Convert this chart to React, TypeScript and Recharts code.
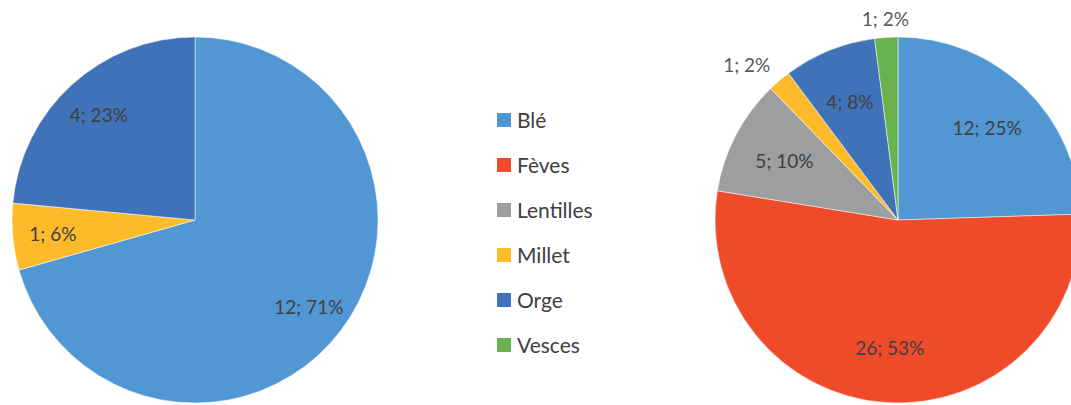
import React from 'react';
import { PieChart, Pie, Cell, Legend } from 'recharts';

const categories = ['Blé', 'Fèves', 'Lentilles', 'Millet', 'Orge', 'Vesces'];
const colors = ['#5097D3', '#EF4B2B', '#9D9E9F', '#FDBB2C', '#3F72B9', '#6AB150'];

const leftCategories = ['Blé', 'Millet', 'Orge'];
const leftValues = [12, 1, 4];

const rightCategories = ['Blé', 'Fèves', 'Lentilles', 'Millet', 'Orge', 'Vesces'];
const rightValues = [12, 26, 5, 1, 4, 1];

const colorOf = (name: string) => colors[categories.indexOf(name)];

// Largest-remainder rounding (percentages sum to 100)
function roundedPercents(values: number[]): number[] {
  const total = values.reduce((a, b) => a + b, 0);
  const raw = values.map((v) => (v / total) * 100);
  const floors = raw.map((r) => Math.floor(r));
  let rest = 100 - floors.reduce((a, b) => a + b, 0);
  const order = raw
    .map((r, i) => ({ i, rem: r - Math.floor(r) }))
    .sort((a, b) => b.rem - a.rem);
  const out = [...floors];
  for (let k = 0; k < order.length && rest > 0; k++, rest--) out[order[k].i] += 1;
  return out;
}

const leftData = leftCategories.map((name, i) => ({ name, value: leftValues[i] }));
const rightData = rightCategories.map((name, i) => ({ name, value: rightValues[i] }));
const leftPct = roundedPercents(leftValues);
const rightPct = roundedPercents(rightValues);

const RAD = Math.PI / 180;
const FONT = 'Lato, "Noto Sans", sans-serif';

const makeLabel = (pcts: number[], inner: number) => (props: any) => {
  const { cx, cy, midAngle, outerRadius, value, index } = props;
  const pct = pcts[index];
  const cos = Math.cos(-midAngle * RAD);
  const sin = Math.sin(-midAngle * RAD);
  const small = pct < 5;
  const r = small ? outerRadius + 14 : outerRadius * inner;
  const x = cx + r * cos;
  const y = cy + r * sin;
  let anchor: 'start' | 'middle' | 'end' = 'middle';
  if (small) {
    if (cos < -0.3) anchor = 'end';
    else if (cos > 0.3) anchor = 'start';
  }
  return (
    <text
      x={x}
      y={y - (small ? 5 : 0)}
      textAnchor={anchor}
      dominantBaseline="central"
      fill={small ? '#595959' : '#404040'}
      fontSize={19}
      fontFamily={FONT}
    >
      {`${value}; ${pct}%`}
    </text>
  );
};

const LegendContent = () => (
  <div style={{ fontFamily: FONT }}>
    {categories.map((c, i) => (
      <div
        key={c}
        style={{ display: 'flex', alignItems: 'center', height: 45, color: '#404040', fontSize: 21 }}
      >
        <span
          style={{ display: 'inline-block', width: 14, height: 14, background: colors[i], marginRight: 6 }}
        />
        <span>{c}</span>
      </div>
    ))}
  </div>
);

export default function App() {
  return (
    <div style={{ position: 'absolute', left: 0, top: 0, width: 1071, height: 405, background: '#fff' }}>
      <PieChart width={1071} height={405} margin={{ top: 0, right: 0, bottom: 0, left: 0 }}>
        <Pie
          data={leftData}
          dataKey="value"
          nameKey="name"
          cx={195}
          cy={220}
          outerRadius={183}
          startAngle={90}
          endAngle={-270}
          stroke="#ffffff"
          strokeWidth={0.5}
          labelLine={false}
          label={makeLabel(leftPct, 0.78)}
          isAnimationActive={false}
        >
          {leftData.map((d) => (
            <Cell key={d.name} fill={colorOf(d.name)} />
          ))}
        </Pie>
        <Pie
          data={rightData}
          dataKey="value"
          nameKey="name"
          cx={898}
          cy={220}
          outerRadius={183}
          startAngle={90}
          endAngle={-270}
          stroke="#ffffff"
          strokeWidth={0.5}
          labelLine={false}
          label={makeLabel(rightPct, 0.7)}
          isAnimationActive={false}
        >
          {rightData.map((d) => (
            <Cell key={d.name} fill={colorOf(d.name)} />
          ))}
        </Pie>
        <Legend
          layout="vertical"
          content={<LegendContent />}
          wrapperStyle={{ position: 'absolute', left: 497, top: 97, width: 140 }}
        />
      </PieChart>
    </div>
  );
}
